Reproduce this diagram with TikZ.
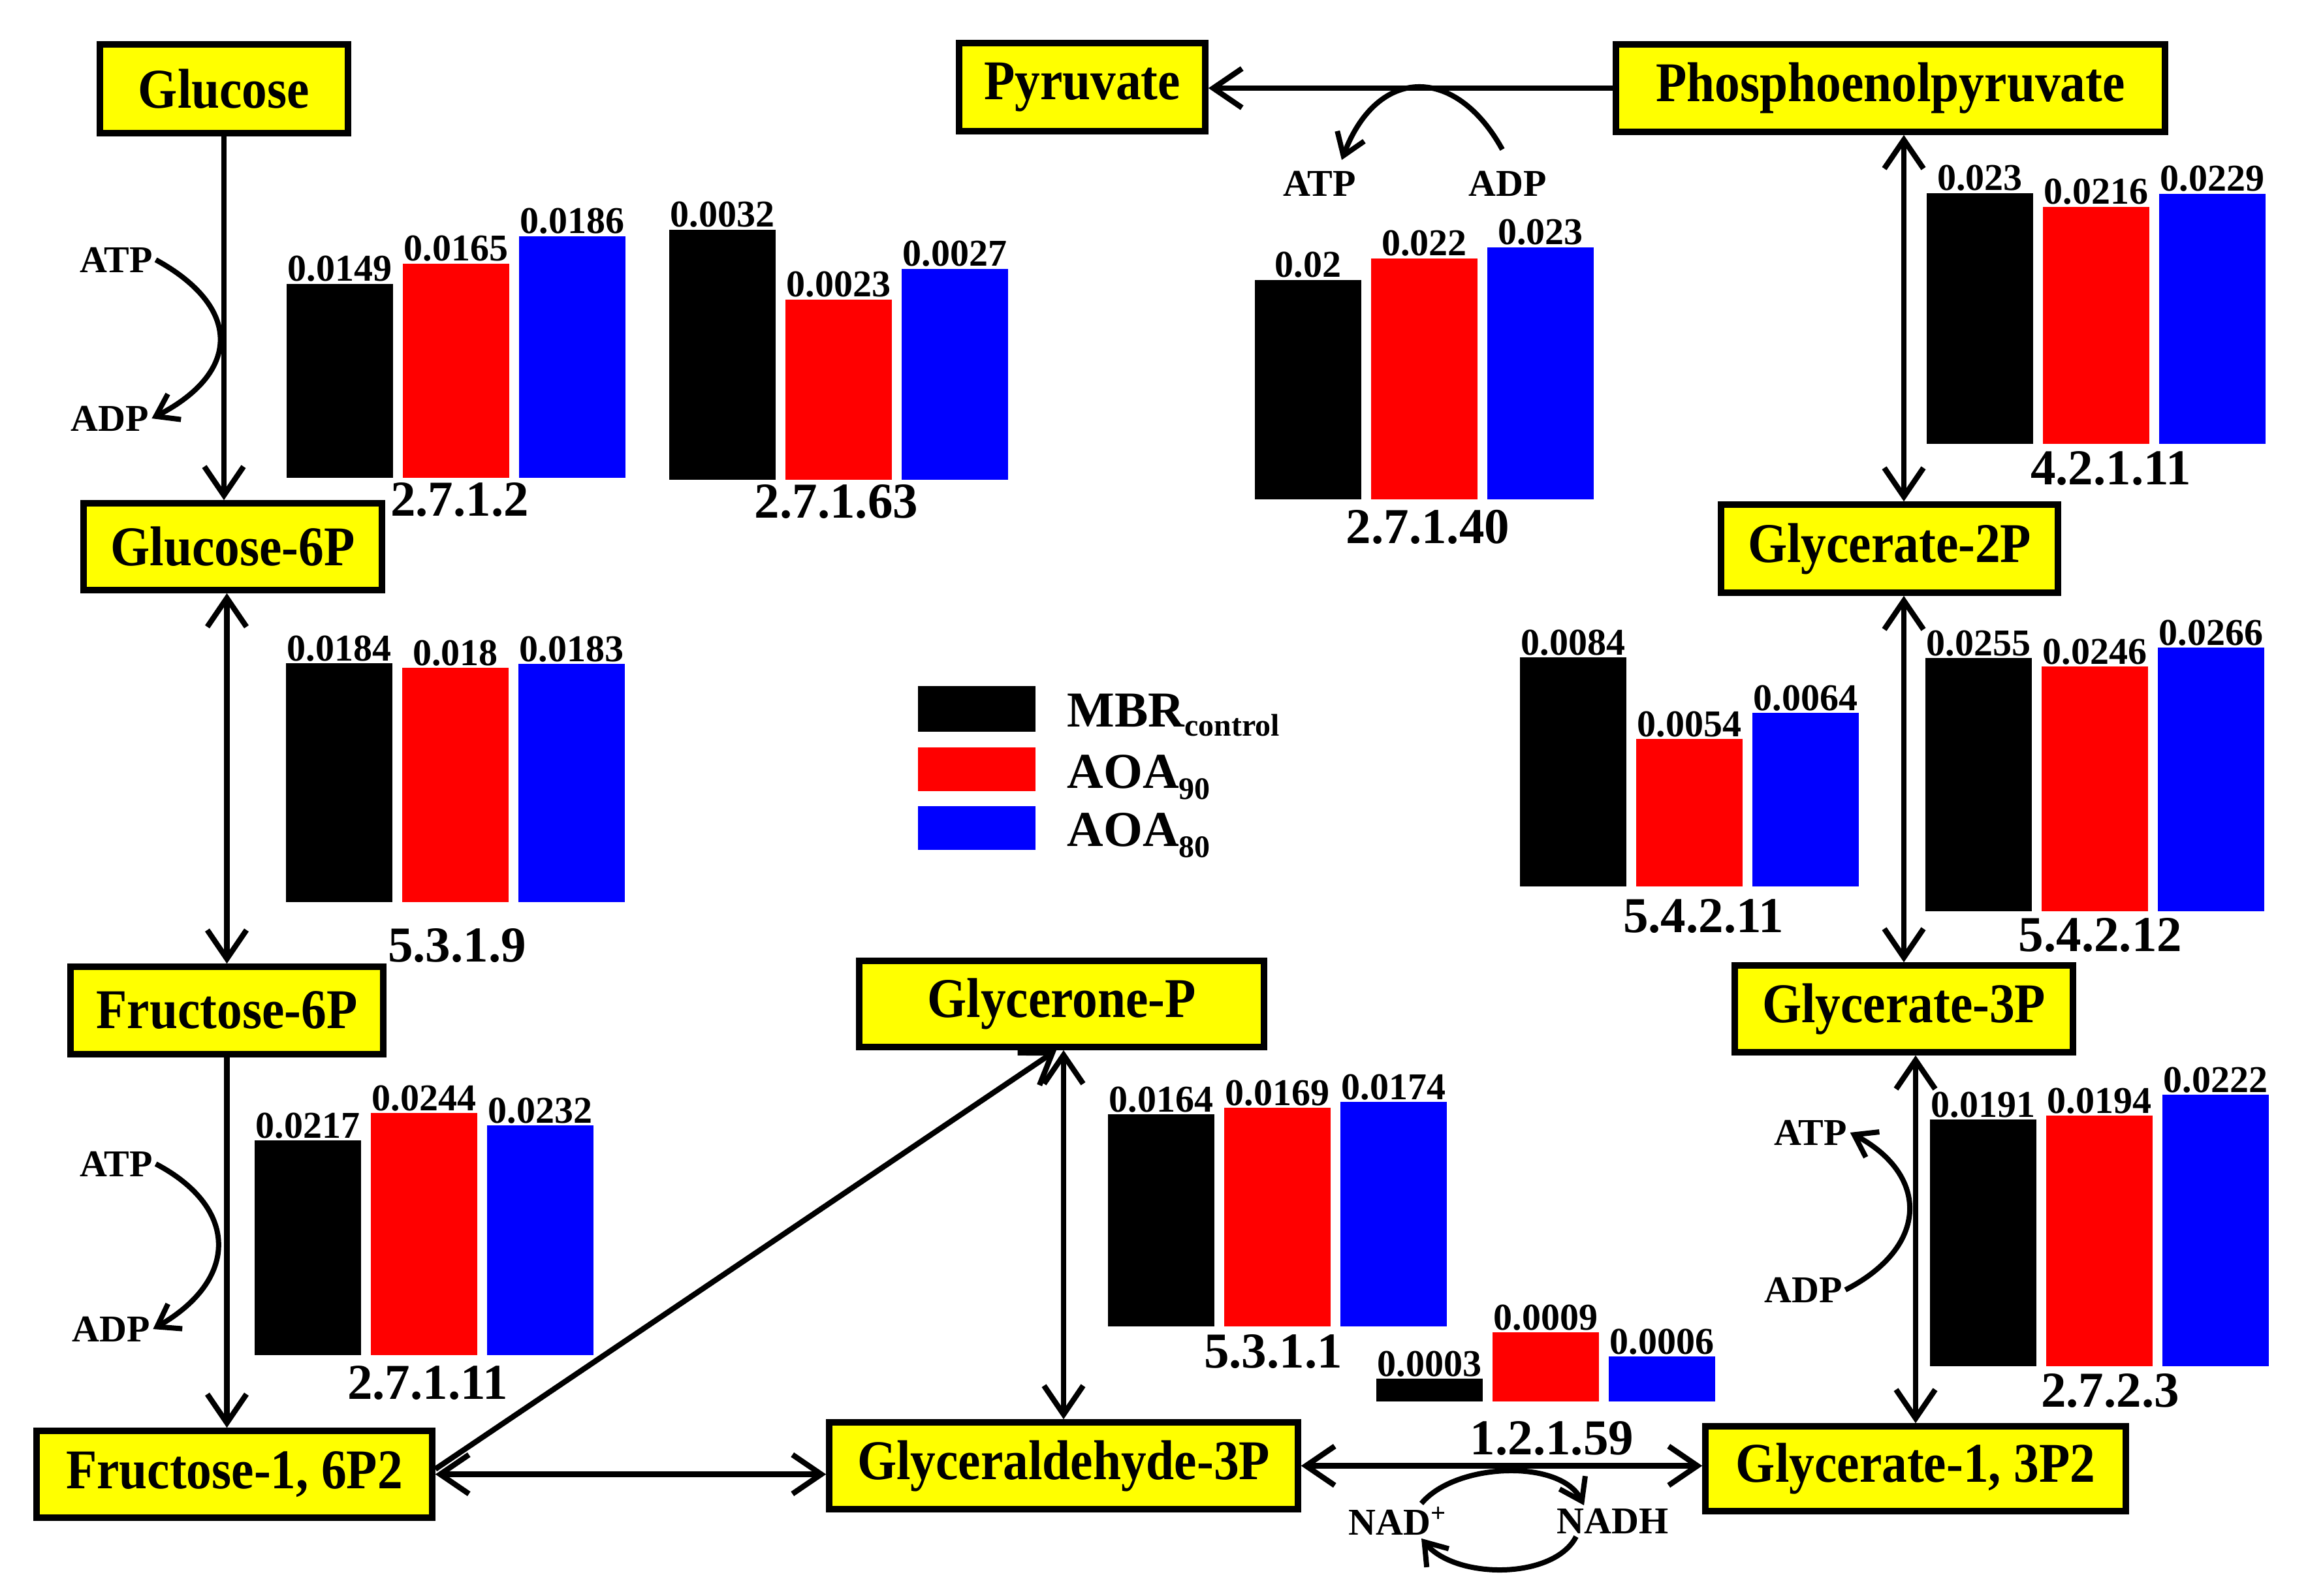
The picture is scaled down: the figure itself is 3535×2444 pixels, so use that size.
\documentclass[tikz,border=0pt]{standalone}
\usepackage{fontspec}
\setmainfont{Liberation Serif}
\newfontfamily\boxf{Liberation Serif}[FakeStretch=0.9]
\newfontfamily\valf{Liberation Serif}[FakeStretch=1.0]
\usetikzlibrary{arrows.meta}
\definecolor{boxyellow}{RGB}{255,255,0}
\definecolor{barred}{RGB}{255,0,0}
\definecolor{barblue}{RGB}{0,0,255}
\newcommand\bargrp[9]{%
  \fill[black] (#2,#3) rectangle (#2+163,#4);
  \fill[barred] (#2+178,#3) rectangle (#2+341,#5);
  \fill[barblue] (#2+356,#3) rectangle (#2+519,#6);
  \node[val] (#1a) at (#2+81.5,#4) {#7};
  \node[val] (#1b) at (#2+259.5,#5) {#8};
  \node[val] (#1c) at (#2+437.5,#6) {#9};
}
\begin{document}
\begin{tikzpicture}[x=0.25pt,y=-0.25pt,
  met/.style={draw=black,fill=boxyellow,line width=2.4pt,inner sep=0pt,
    font=\boxf\bfseries\fontsize{21.5}{24}\selectfont},
  val/.style={anchor=south,inner sep=0.6pt,font=\valf\bfseries\fontsize{14.5}{15}\selectfont},
  ec/.style={inner sep=0pt,font=\bfseries\fontsize{19.25}{20}\selectfont},
  cof/.style={inner sep=1pt,font=\bfseries\fontsize{14.5}{15}\selectfont},
  leg/.style={inner sep=0pt,font=\bfseries\fontsize{19.25}{20}\selectfont},
  conn/.style={line width=2.1pt},
  tip/.tip={Straight Barb[length=11pt,width=15pt,line width=2.1pt]},
  cofarc/.style={line width=2pt,-{Straight Barb[length=8pt,width=11pt,line width=2pt]}}
]
\useasboundingbox[fill=white] (0,0) rectangle (3535,2444);

% metabolite boxes
\node[met,minimum width=95pt,minimum height=34pt] (glc) at (343,136) {Glucose};
\node[met,minimum width=114.25pt,minimum height=33.25pt] (g6p) at (356.5,837.5) {Glucose-6P};
\node[met,minimum width=119.75pt,minimum height=33.5pt] (f6p) at (347.5,1548) {Fructose-6P};
\node[met,minimum width=151.5pt,minimum height=33.25pt] (f16) at (359,2258.5) {Fructose-1, 6P2};
\node[met,minimum width=94.25pt,minimum height=33.75pt] (pyr) at (1657.5,133.5) {Pyruvate};
\node[met,minimum width=210.25pt,minimum height=33.5pt] (pep) at (2895.5,135) {Phosphoenolpyruvate};
\node[met,minimum width=129pt,minimum height=33.75pt] (g2p) at (2894,840.5) {Glycerate-2P};
\node[met,minimum width=129.5pt,minimum height=33.25pt] (g3p) at (2916,1545.5) {Glycerate-3P};
\node[met,minimum width=161pt,minimum height=32.5pt] (g13) at (2934,2250) {Glycerate-1, 3P2};
\node[met,minimum width=155pt,minimum height=33pt] (glyp) at (1626,1538) {Glycerone-P};
\node[met,minimum width=179.5pt,minimum height=33.25pt] (gap) at (1629,2245.5) {Glyceraldehyde-3P};

% main connectors
\draw[conn,-{tip}] (glc.south) -- (glc.south |- g6p.north);
\draw[conn,{tip}-{tip}] (f6p.north |- g6p.south) -- (f6p.north);
\draw[conn,-{tip}] (f6p.south) -- (f6p.south |- f16.north);
\draw[conn,{tip}-{tip}] (f16.east) -- (f16.east -| gap.west);
\draw[conn,-{tip}] ([yshift=2pt]f16.east) -- ([xshift=-2pt]glyp.south);
\draw[conn,{tip}-{tip}] (gap.north) -- (gap.north |- glyp.south);
\draw[conn,{tip}-{tip}] (gap.east) -- (gap.east -| g13.west);
\draw[conn,{tip}-{tip}] (g13.north) -- (g13.north |- g3p.south);
\draw[conn,{tip}-{tip}] (g3p.north) -- (g3p.north |- g2p.south);
\draw[conn,{tip}-{tip}] (g3p.north |- pep.south) -- (g3p.north |- g2p.north);
\draw[conn,-{tip}] (pep.west) -- (pep.west -| pyr.east);

% cofactors
\node[cof] (atp1) at (178,398) {ATP};
\node[cof] (adp1) at (168,641) {ADP};
\node[cof] (atp2) at (178,1783) {ATP};
\node[cof] (adp2) at (170,2036) {ADP};
\node[cof] (atp3) at (2021,281) {ATP};
\node[cof] (adp3) at (2309,281) {ADP};
\node[cof] (atp4) at (2773,1735) {ATP};
\node[cof] (adp4) at (2762,1976) {ADP};
\node[cof] (nadp) at (2141,2330) {NAD\textsuperscript{+}};
\node[cof] (nadh) at (2470,2330) {NADH};

\draw[cofarc] (atp1.east) .. controls (370,470) and (370,570) .. (adp1.east);
\draw[cofarc] (atp2.east) .. controls (366,1850) and (366,1960) .. (adp2.east);
\draw[cofarc] ([xshift=-2pt,yshift=7pt]adp3.north) .. controls (2230,100) and (2110,100) .. ([xshift=8.5pt,yshift=3pt]atp3.north);
\draw[cofarc] (adp4.east) .. controls (2955,1910) and (2955,1800) .. (atp4.east);
\draw[cofarc] ([xshift=9pt]nadp.north) .. controls (2230,2240) and (2390,2235) .. ([xshift=-11pt]nadh.north);
\draw[cofarc] ([xshift=-14pt]nadh.south) .. controls (2380,2420) and (2230,2420) .. ([xshift=9pt]nadp.south);

% bar groups
\bargrp{ba}{439}{732}{435}{404}{362}{0.0149}{0.0165}{0.0186}
\bargrp{bb}{1025}{735}{352}{459}{412}{0.0032}{0.0023}{0.0027}
\bargrp{bc}{1922}{765}{429}{396}{379}{0.02}{0.022}{0.023}
\bargrp{bd}{2951}{680}{296}{317}{297}{0.023}{0.0216}{0.0229}
\bargrp{be}{438}{1382}{1016}{1023}{1017}{0.0184}{0.018}{0.0183}
\bargrp{bf}{2328}{1358}{1007}{1132}{1092}{0.0084}{0.0054}{0.0064}
\bargrp{bg}{2949}{1396}{1008}{1021}{992}{0.0255}{0.0246}{0.0266}
\bargrp{bh}{390}{2076}{1747}{1705}{1724}{0.0217}{0.0244}{0.0232}
\bargrp{bi}{1697}{2032}{1707}{1697}{1688}{0.0164}{0.0169}{0.0174}
\bargrp{bj}{2108}{2147}{2112}{2041}{2078}{0.0003}{0.0009}{0.0006}
\bargrp{bk}{2956}{2093}{1715}{1709}{1677}{0.0191}{0.0194}{0.0222}

% enzyme labels
\node[ec] (eca) at (704,766) {2.7.1.2};
\node[ec] (ecb) at (1281,769) {2.7.1.63};
\node[ec] (ecc) at (2187,807) {2.7.1.40};
\node[ec] (ecd) at (3233,718) {4.2.1.11};
\node[ec] (ece) at (700,1449) {5.3.1.9};
\node[ec] (ecf) at (2609,1404) {5.4.2.11};
\node[ec] (ecg) at (3217,1433) {5.4.2.12};
\node[ec] (ech) at (655,2119) {2.7.1.11};
\node[ec] (eci) at (1950,2071) {5.3.1.1};
\node[ec] (ecj) at (2377,2204) {1.2.1.59};
\node[ec] (eck) at (3232,2131) {2.7.2.3};

% legend
\fill[black] (1406,1051) rectangle (1586,1121);
\fill[barred] (1406,1145) rectangle (1586,1212);
\fill[barblue] (1406,1235) rectangle (1586,1302);
\node[leg,anchor=base west] (lmbr) at (1634,1113) {MBR\raisebox{-3.5pt}{\fontsize{12}{12}\selectfont control}};
\node[leg,anchor=base west] (l90) at (1634,1207) {AOA\raisebox{-4.25pt}{\fontsize{12}{12}\selectfont 90}};
\node[leg,anchor=base west] (l80) at (1634,1296) {AOA\raisebox{-4.25pt}{\fontsize{12}{12}\selectfont 80}};
\end{tikzpicture}
\end{document}
